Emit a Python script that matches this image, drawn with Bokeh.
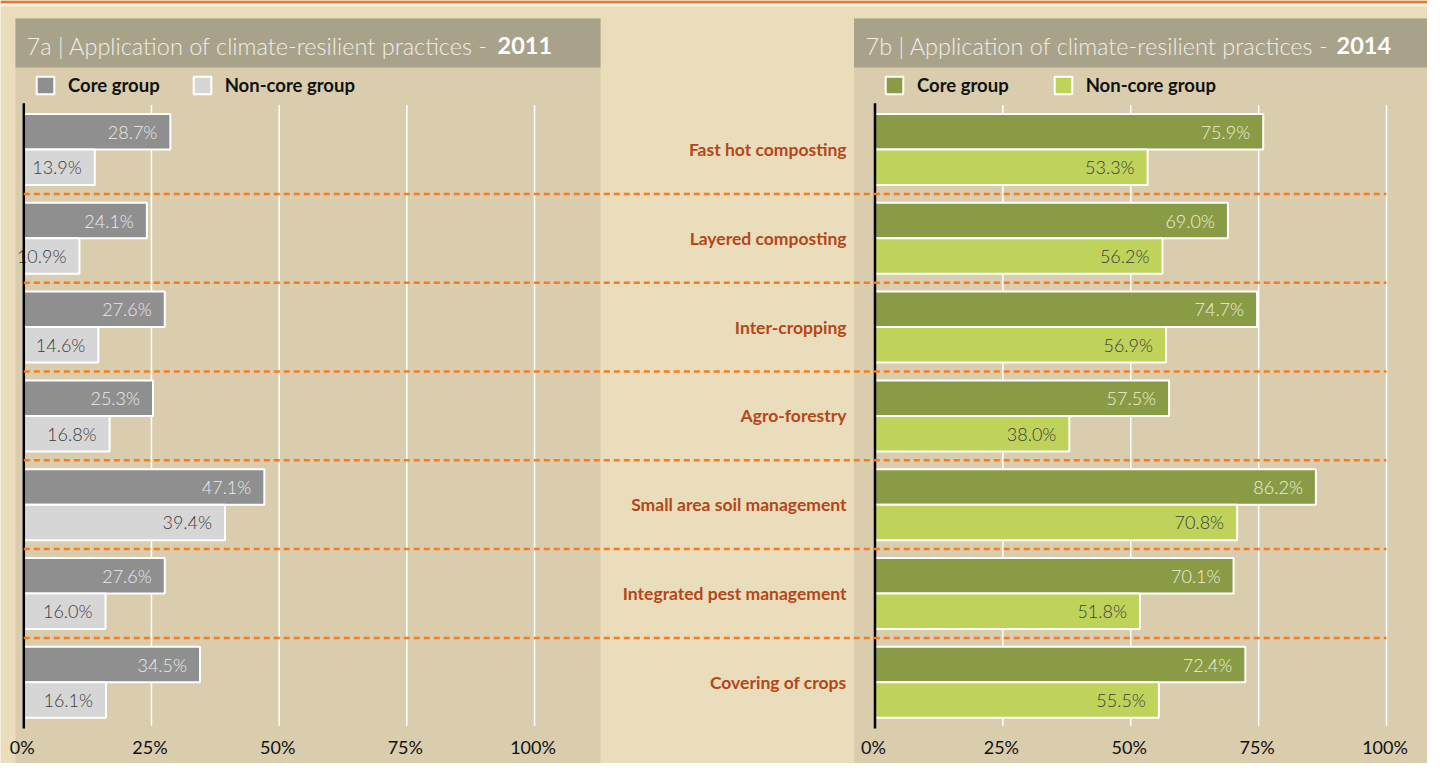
from bokeh.plotting import figure
from bokeh.models import Range1d, ColumnDataSource, Legend, LegendItem
from bokeh.core.properties import value
from bokeh.embed import file_html
from bokeh.resources import INLINE

# ---------------- data ----------------
categories = ["Fast hot composting", "Layered composting", "Inter-cropping",
              "Agro-forestry", "Small area soil management",
              "Integrated pest management", "Covering of crops"]
core_2011 = [28.7, 24.1, 27.6, 25.3, 47.1, 27.6, 34.5]
noncore_2011 = [13.9, 10.9, 14.6, 16.8, 39.4, 16.0, 16.1]
core_2014 = [75.9, 69.0, 74.7, 57.5, 86.2, 70.1, 72.4]
noncore_2014 = [53.3, 56.2, 56.9, 38.0, 70.8, 51.8, 55.5]
tick_values = [0, 25, 50, 75, 100]
tick_labels = ["0%", "25%", "50%", "75%", "100%"]
series_names = ["Core group", "Non-core group"]
title_text = ["7a | Application of climate-resilient practices - ",
              "7b | Application of climate-resilient practices - "]
title_years = ["2011", "2014"]

# ---------------- layout / style ----------------
W, H = 1427, 763
PAGE = "#e9ddbb"
PANEL = "#d9cdae"
HEAD = "#a9a28b"
ORANGE_LINE = "#e8792b"
DASH = "#f57d1f"
CAT_COLOR = "#b4461a"

L0, LK = 23.3, 5.107     # left panel: canvas x of 0 %, px per %
R0, RK = 874.5, 5.115    # right panel
C0, CK = 149.0, 88.8     # category band centre of first band, px per band

p = figure(width=W, height=H, output_backend="svg", toolbar_location=None,
           x_range=Range1d(0, W), y_range=Range1d(H, 0),
           x_axis_type=None, y_axis_type=None, min_border=0,
           outline_line_color=None, background_fill_color=PAGE,
           border_fill_color=PAGE)
p.extra_x_ranges = {
    "L": Range1d(-L0 / LK, (W - L0) / LK),
    "R": Range1d(-R0 / RK, (W - R0) / RK),
}
p.extra_y_ranges = {"cat": Range1d((H - C0) / CK, -C0 / CK)}

# top orange rule
p.quad(left=[0], right=[W], top=[0], bottom=[3], fill_color=ORANGE_LINE, line_color=None)
p.quad(left=[0], right=[W], top=[3], bottom=[6], fill_color="#f7f1e2", line_color=None)

# panels and headers
panel_left = [15, 853.5]
panel_right = [600, 1432]
p.quad(left=panel_left, right=panel_right, top=[18, 18], bottom=[H] * 2,
       fill_color=PANEL, line_color=None)
p.quad(left=panel_left, right=panel_right, top=[18, 18], bottom=[67, 67],
       fill_color=HEAD, line_color=None)

idx = list(range(len(categories)))
n = len(categories)

sides = [
    dict(r="L", core=core_2011, non=noncore_2011, ccol="#8f8f8f", ncol="#d6d6d6",
         clab="#ebebeb", nlab="#3c3c3c", tx=26, yx=497, legx=34, legsp=31),
    dict(r="R", core=core_2014, non=noncore_2014, ccol="#8a9b45", ncol="#bfd35b",
         clab="#eef0dc", nlab="#3c3c3c", tx=865, yx=1336, legx=883, legsp=43),
]

# gridlines
for s in sides:
    p.segment(x0=tick_values[1:], x1=tick_values[1:],
              y0=[-0.5] * (len(tick_values) - 1), y1=[6.49] * (len(tick_values) - 1),
              x_range_name=s["r"], y_range_name="cat",
              line_color="white", line_width=1.5)

for k, s in enumerate(sides):
    src_c = ColumnDataSource(dict(y=[i - 0.2 for i in idx], v=s["core"],
                                  lab=[f"{v:.1f}%" for v in s["core"]]))
    src_n = ColumnDataSource(dict(y=[i + 0.2 for i in idx], v=s["non"],
                                  lab=[f"{v:.1f}%" for v in s["non"]]))
    rc = p.hbar(y="y", left=0, right="v", height=0.4, source=src_c,
                x_range_name=s["r"], y_range_name="cat",
                fill_color=s["ccol"], line_color="white", line_width=2)
    rn = p.hbar(y="y", left=0, right="v", height=0.4, source=src_n,
                x_range_name=s["r"], y_range_name="cat",
                fill_color=s["ncol"], line_color="white", line_width=2)
    for src, col in ((src_c, s["clab"]), (src_n, s["nlab"])):
        p.text(x="v", y="y", text="lab", source=src, x_range_name=s["r"],
               y_range_name="cat", x_offset=-13, text_align="right",
               text_baseline="middle", text_font=value("Lato Light"),
               text_font_size="18px", text_color=col)
    # zero axis line
    p.segment(x0=[0], x1=[0], y0=[-0.52], y1=[6.52], x_range_name=s["r"],
              y_range_name="cat", line_color="black", line_width=2.5)
    # tick labels
    p.text(x=tick_values, y=[746] * len(tick_values), text=tick_labels,
           x_range_name=s["r"], x_offset=-1.5, text_align="center",
           text_baseline="middle", text_font=value("Lato"),
           text_font_size="18px", text_color="#111111")
    # titles
    p.text(x=[s["tx"]], y=[45], text=[title_text[k]], text_baseline="middle",
           text_font=value("Lato Light"), text_font_size="23.5px",
           text_color="#f1ede3")
    p.text(x=[s["yx"]], y=[45], text=[title_years[k]], text_baseline="middle",
           text_font=value("Lato"), text_font_style="bold",
           text_font_size="23.5px", text_color="#ffffff")
    # legend
    leg = Legend(items=[LegendItem(label=series_names[0], renderers=[rc]),
                        LegendItem(label=series_names[1], renderers=[rn])],
                 location=(s["legx"], H - 96), orientation="horizontal",
                 glyph_width=22, glyph_height=22, label_height=22,
                 label_standoff=12, spacing=s["legsp"], padding=0, margin=0,
                 background_fill_alpha=0, border_line_color=None,
                 label_text_font="Lato", label_text_font_style="bold",
                 label_text_font_size="18.5px", label_text_color="#111111")
    p.add_layout(leg)

# dashed separators spanning both panels
sep = [i + 0.5 for i in range(n - 1)]
p.segment(x0=[L0] * len(sep), x1=[R0 + 100 * RK] * len(sep), y0=sep, y1=sep,
          y_range_name="cat", line_color=DASH, line_width=2.5, line_dash="6 4")

# category labels
p.text(x=[0] * n, y=idx, text=categories, x_range_name="R", y_range_name="cat",
       x_offset=-28.5, text_align="right", text_baseline="middle",
       text_font=value("Lato"), text_font_style="bold", text_font_size="17.5px",
       text_color=CAT_COLOR)

open("out.html", "w").write(file_html(p, INLINE, title="Application of climate-resilient practices"))
